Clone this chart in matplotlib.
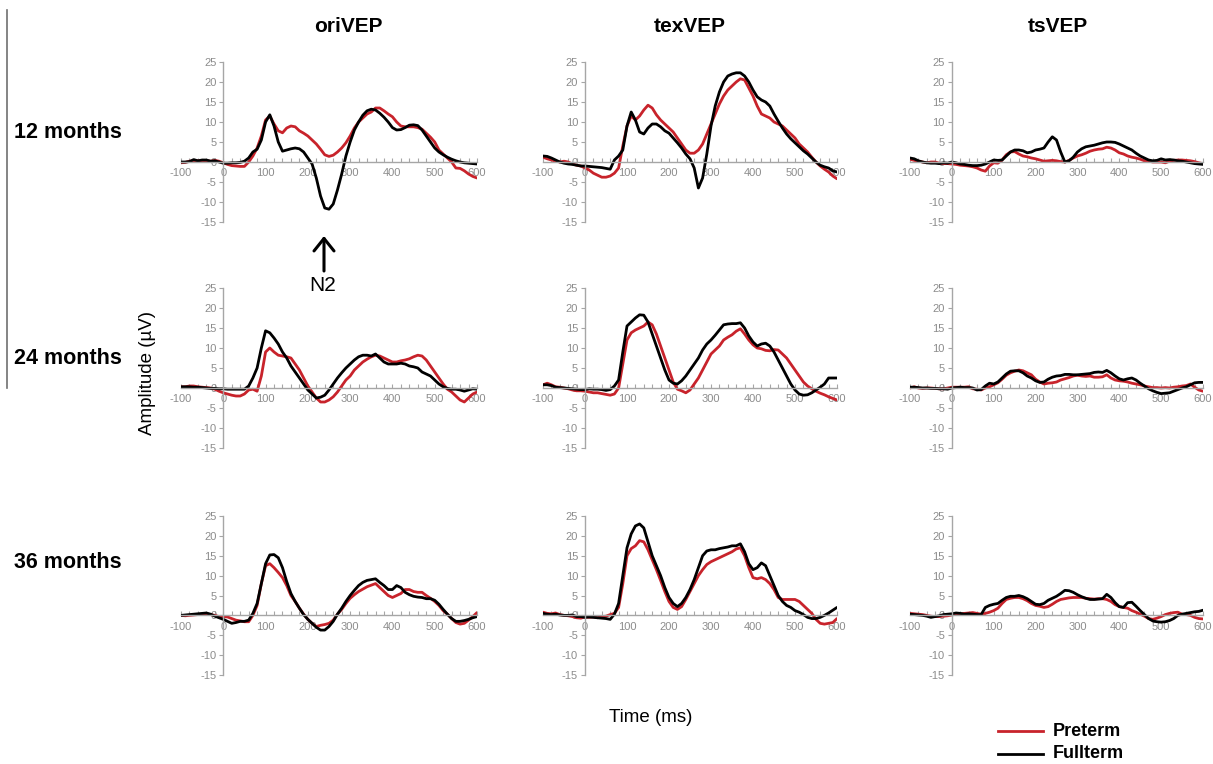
import matplotlib as mpl
import matplotlib.pyplot as plt
import numpy as np

plt.rc('font', family=['Liberation Sans', 'DejaVu Sans'])
plt.rc('axes', unicode_minus=False)

# sample times (ms), one value every 10 ms
TIME_MS = list(range(-100, 610, 10))

# --- oriVEP ---
ORI_12_PRE = [-0.2, -0.1, 0.2, 0.3, 0.3, 0.2, 0.3, 0.2, 0.4, 0.2, -0.2, -0.6, -0.9, -1.0, -1.1, -1.1, 0.0, 1.5,
              3.5, 6.5, 10.5, 11.5, 9.5, 7.8, 7.3, 8.5, 9.0, 8.8, 7.8, 7.2, 6.5, 5.5, 4.5, 3.2, 1.8, 1.4, 1.7, 2.5,
              3.5, 4.8, 6.5, 8.5, 10.0, 11.0, 12.0, 12.5, 13.5, 13.5, 12.8, 12.0, 11.3, 10.0, 9.0, 8.8, 8.8, 8.8,
              8.6, 8.2, 7.2, 6.2, 5.0, 3.0, 2.0, 1.0, 0.0, -1.5, -1.6, -2.2, -3.0, -3.6, -4.0]
ORI_12_FULL = [0.0, 0.0, 0.1, 0.6, 0.3, 0.5, 0.5, 0.2, 0.3, 0.0, -0.3, -0.3, -0.2, -0.2, -0.1, 0.2, 1.0, 2.5,
               3.2, 5.5, 10.0, 11.8, 9.0, 5.0, 2.7, 3.0, 3.3, 3.5, 3.3, 2.5, 1.0, -0.5, -4.0, -8.5, -11.5, -11.8,
               -10.5, -7.0, -3.0, 1.5, 5.0, 8.0, 10.0, 11.7, 12.8, 13.2, 13.0, 12.2, 11.2, 10.0, 8.6, 8.0, 8.1,
               8.6, 9.2, 9.3, 9.1, 8.0, 6.5, 5.0, 3.5, 2.5, 1.8, 1.2, 0.7, 0.3, 0.0, -0.2, -0.3, -0.4, -0.5]
ORI_24_PRE = [0.3, 0.3, 0.5, 0.5, 0.3, 0.2, 0.1, 0.0, -0.3, -0.8, -1.2, -1.5, -1.8, -2.0, -2.0, -1.5, -0.5, -0.3,
              -0.8, 3.0, 9.0, 10.0, 9.0, 8.2, 8.0, 7.8, 7.5, 6.0, 4.5, 2.5, 0.5, -1.0, -2.5, -3.5, -3.5, -3.0,
              -2.2, -1.0, 0.5, 2.0, 3.0, 4.5, 5.5, 6.5, 7.2, 7.8, 8.2, 8.0, 7.5, 7.0, 6.5, 6.5, 6.8, 7.0, 7.3,
              7.8, 8.2, 8.0, 7.0, 5.5, 4.0, 2.5, 1.0, -0.3, -1.0, -2.0, -3.0, -3.5, -2.5, -1.5, -1.0]
ORI_24_FULL = [0.3, 0.3, 0.3, 0.2, 0.2, 0.1, 0.0, -0.1, -0.1, -0.2, -0.2, -0.3, -0.3, -0.3, -0.3, -0.3, 0.5,
               2.5, 5.0, 10.0, 14.3, 13.8, 12.5, 11.0, 9.0, 7.5, 5.5, 4.0, 2.5, 1.0, -0.5, -1.5, -2.5, -2.3, -1.8,
               -0.5, 1.0, 2.5, 3.8, 5.0, 6.0, 7.0, 7.8, 8.2, 8.2, 8.0, 8.5, 7.5, 6.5, 6.0, 6.0, 6.0, 6.2, 6.0,
               5.5, 5.3, 5.0, 4.0, 3.5, 3.0, 2.0, 1.0, 0.3, -0.1, -0.3, -0.3, -0.5, -0.8, -0.5, -0.2, -0.3]
ORI_36_PRE = [0.0, -0.1, 0.0, 0.1, 0.2, 0.3, 0.4, 0.2, 0.0, -0.3, -0.3, -0.4, -0.8, -1.2, -1.4, -1.6, -1.6, 0.0,
              2.5, 8.0, 12.5, 13.0, 12.0, 10.8, 9.5, 7.5, 5.0, 3.5, 1.8, 0.3, -1.0, -2.0, -2.8, -2.5, -2.3, -2.0,
              -1.2, 0.3, 1.5, 3.0, 4.3, 5.2, 6.0, 6.6, 7.2, 7.6, 8.0, 7.0, 6.0, 5.0, 4.5, 5.0, 5.5, 6.5, 6.5,
              6.0, 5.8, 5.8, 5.0, 4.3, 3.5, 2.5, 1.2, 0.3, -0.8, -1.8, -2.2, -2.0, -1.2, -0.3, 0.7]
ORI_36_FULL = [0.0, 0.1, 0.2, 0.3, 0.4, 0.5, 0.6, 0.3, -0.2, -0.6, -1.0, -1.5, -2.0, -1.8, -1.5, -1.5, -1.2, 0.5,
               3.0, 8.0, 13.0, 15.2, 15.3, 14.5, 12.0, 8.5, 5.5, 3.5, 1.8, 0.2, -1.0, -2.0, -3.0, -3.7, -3.7,
               -2.8, -1.5, 0.3, 1.8, 3.5, 5.0, 6.3, 7.5, 8.3, 8.8, 9.0, 9.2, 8.3, 7.5, 6.5, 6.5, 7.5, 7.0, 5.8,
               5.2, 4.8, 4.6, 4.5, 4.2, 4.2, 3.8, 2.8, 1.5, 0.3, -0.8, -1.5, -1.5, -1.3, -1.0, -0.6, -0.3]

# --- texVEP ---
TEX_12_PRE = [1.2, 0.8, 0.5, 0.2, 0.0, 0.2, 0.0, -0.5, -0.8, -1.0, -1.5, -2.0, -2.8, -3.3, -3.8, -3.8, -3.5,
              -2.8, -1.5, 4.0, 9.0, 11.5, 10.5, 11.5, 13.0, 14.2, 13.5, 11.8, 10.5, 9.5, 8.5, 7.5, 6.0, 4.5, 3.0,
              2.2, 2.2, 3.0, 4.5, 7.0, 9.5, 12.0, 14.5, 16.5, 18.0, 19.0, 20.0, 20.8, 20.5, 18.5, 16.5, 14.0,
              12.0, 11.5, 11.0, 10.0, 9.5, 9.0, 8.0, 7.0, 6.0, 4.5, 3.5, 2.5, 1.2, 0.0, -1.0, -1.8, -2.5, -3.5,
              -4.2]
TEX_12_FULL = [1.5, 1.4, 1.0, 0.5, 0.0, -0.3, -0.5, -0.6, -0.8, -1.0, -1.0, -1.1, -1.2, -1.3, -1.4, -1.6, -1.8,
               0.5, 1.5, 3.0, 9.0, 12.5, 10.5, 7.5, 7.0, 8.5, 9.5, 9.5, 8.8, 7.8, 7.2, 6.0, 4.8, 3.5, 2.0, 0.8,
               -1.5, -6.5, -4.0, 2.0, 9.0, 14.0, 17.5, 20.0, 21.5, 22.0, 22.3, 22.3, 21.5, 20.0, 18.0, 16.3, 15.5,
               15.0, 14.0, 12.0, 10.2, 8.5, 7.0, 5.8, 4.8, 3.8, 2.8, 2.0, 1.0, 0.0, -0.8, -1.2, -1.5, -2.2, -2.5]
TEX_24_PRE = [0.8, 1.2, 0.8, 0.3, 0.2, 0.0, -0.2, -0.5, -0.7, -0.7, -0.8, -1.0, -1.2, -1.2, -1.4, -1.6, -1.8,
              -1.5, 0.0, 6.0, 12.0, 13.8, 14.5, 15.0, 15.5, 16.5, 15.8, 13.5, 10.5, 7.5, 4.5, 1.5, -0.3, -0.7,
              -1.2, -0.5, 1.0, 2.5, 4.5, 6.5, 8.5, 9.5, 10.5, 12.0, 12.7, 13.3, 14.2, 14.8, 13.5, 12.0, 10.8,
              10.0, 9.8, 9.4, 9.3, 9.6, 9.5, 8.5, 7.5, 6.0, 4.5, 3.0, 1.5, 0.5, -0.2, -0.8, -1.3, -1.7, -2.2,
              -2.6, -3.0]
TEX_24_FULL = [0.8, 0.8, 0.6, 0.2, 0.1, 0.0, -0.1, -0.2, -0.3, -0.4, -0.4, -0.2, -0.3, -0.3, -0.4, -0.6, -0.4,
               0.5, 2.0, 9.0, 15.5, 16.5, 17.5, 18.3, 18.2, 16.5, 13.5, 10.5, 7.5, 4.5, 2.0, 1.2, 1.0, 1.8, 3.0,
               4.5, 6.0, 7.5, 9.5, 11.0, 12.0, 13.2, 14.5, 15.8, 16.0, 16.1, 16.1, 16.3, 15.0, 13.0, 11.5, 10.5,
               11.0, 11.2, 10.5, 9.0, 7.0, 5.0, 3.0, 1.0, -0.5, -1.5, -1.8, -1.7, -1.2, -0.5, 0.2, 1.0, 2.5, 2.5,
               2.5]
TEX_36_PRE = [0.8, 0.5, 0.4, 0.6, 0.2, 0.0, -0.1, -0.3, -0.6, -0.7, -0.4, -0.5, -0.4, -0.6, -0.3, -0.2, 0.2, 0.5,
              2.0, 8.0, 15.0, 16.8, 17.5, 18.8, 18.5, 16.5, 14.0, 11.5, 8.8, 6.0, 3.5, 2.0, 1.5, 2.2, 4.0, 6.0,
              8.0, 10.0, 11.5, 12.8, 13.5, 14.0, 14.5, 15.0, 15.5, 16.0, 16.7, 17.0, 15.0, 12.0, 9.5, 9.2, 9.5,
              9.0, 8.0, 6.5, 4.5, 4.0, 4.0, 4.0, 4.0, 3.5, 2.5, 1.5, 0.5, -1.0, -2.0, -2.2, -2.0, -1.8, -0.8]
TEX_36_FULL = [0.5, 0.3, 0.2, 0.3, 0.1, 0.0, 0.0, 0.1, -0.3, -0.3, -0.5, -0.4, -0.5, -0.6, -0.7, -0.8, -1.0, 0.3,
               3.0, 10.0, 17.0, 20.5, 22.5, 23.0, 22.0, 18.5, 15.0, 12.5, 10.0, 7.0, 4.5, 3.0, 2.2, 3.0, 4.5, 6.5,
               9.0, 12.0, 15.0, 16.2, 16.5, 16.5, 16.8, 17.0, 17.2, 17.5, 17.5, 18.0, 16.0, 13.0, 11.5, 12.0,
               13.2, 12.5, 10.0, 7.5, 5.0, 3.5, 2.5, 2.0, 1.2, 0.8, 0.2, -0.5, -0.8, -0.8, -0.5, 0.0, 0.6, 1.3,
               2.0]

# --- tsVEP ---
TS_12_PRE = [0.7, 0.4, 0.2, 0.0, -0.2, 0.0, 0.0, -0.3, -0.4, -0.4, -0.5, -0.6, -0.8, -0.9, -1.0, -1.2, -1.5, -2.0,
             -2.3, -1.0, -0.2, -0.3, 0.5, 1.8, 2.5, 2.6, 2.0, 1.5, 1.3, 1.0, 0.8, 0.5, 0.2, 0.3, 0.4, 0.3, 0.1,
             0.0, 0.4, 1.0, 1.5, 1.8, 2.2, 2.7, 3.0, 3.2, 3.3, 3.7, 3.5, 3.0, 2.3, 2.0, 1.5, 1.2, 1.0, 0.7, 0.3,
             0.2, 0.0, 0.0, 0.0, -0.2, 0.2, 0.4, 0.5, 0.5, 0.4, 0.3, 0.1, -0.2, -0.4]
TS_12_FULL = [1.0, 0.8, 0.3, 0.0, -0.2, -0.3, -0.3, -0.4, -0.2, -0.3, 0.0, -0.2, -0.5, -0.6, -0.8, -0.9, -0.9,
              -0.8, -0.5, 0.0, 0.5, 0.4, 0.5, 1.5, 2.5, 3.0, 3.0, 2.8, 2.3, 2.5, 3.0, 3.2, 3.5, 5.0, 6.3, 5.5, 2.5,
              0.0, 0.3, 1.2, 2.5, 3.3, 3.8, 4.0, 4.2, 4.5, 4.8, 5.0, 5.0, 4.9, 4.5, 4.0, 3.5, 3.0, 2.2, 1.5, 1.0,
              0.5, 0.3, 0.4, 0.8, 0.5, 0.6, 0.5, 0.3, 0.2, 0.0, -0.2, -0.4, -0.5, -0.6]
TS_24_PRE = [0.0, 0.3, 0.0, -0.1, 0.0, 0.0, -0.1, -0.2, -0.2, 0.0, 0.2, 0.2, 0.2, 0.2, 0.3, -0.2, -0.3, -0.5, 0.0,
             0.3, 0.8, 1.3, 2.2, 3.2, 3.8, 4.2, 4.5, 4.3, 3.8, 3.3, 2.2, 1.5, 1.0, 1.2, 1.3, 1.5, 2.0, 2.3, 2.6,
             3.0, 3.2, 3.0, 2.9, 3.0, 2.7, 2.7, 2.8, 3.3, 2.5, 2.0, 1.8, 1.7, 1.5, 1.2, 1.0, 0.8, 0.5, 0.3, 0.1,
             0.1, 0.0, 0.1, 0.0, 0.2, 0.3, 0.5, 0.6, 1.0, 0.2, -0.5, -0.8]
TS_24_FULL = [0.2, 0.2, 0.1, 0.0, 0.0, -0.1, -0.1, -0.2, -0.2, -0.3, 0.0, 0.1, 0.2, 0.1, 0.1, 0.0, -0.5, -0.4,
              0.5, 1.2, 1.0, 1.5, 2.5, 3.5, 4.2, 4.3, 4.3, 3.8, 3.0, 2.5, 1.8, 1.4, 1.5, 2.2, 2.7, 3.0, 3.1, 3.4,
              3.4, 3.3, 3.3, 3.4, 3.5, 3.6, 3.9, 4.0, 3.9, 4.4, 3.8, 3.0, 2.3, 2.0, 2.3, 2.5, 2.0, 1.2, 0.5, -0.2,
              -0.7, -1.1, -1.4, -1.3, -1.2, -0.8, -0.4, 0.0, 0.3, 0.8, 1.3, 1.4, 1.4]
TS_36_PRE = [0.5, 0.4, 0.3, 0.2, 0.0, -0.2, -0.3, -0.3, -0.2, -0.1, 0.1, 0.3, 0.4, 0.5, 0.6, 0.7, 0.5, 0.3, 0.5,
             0.8, 1.2, 1.8, 3.0, 4.0, 4.3, 4.5, 4.5, 4.2, 3.7, 3.0, 2.5, 2.3, 2.0, 2.2, 2.8, 3.5, 4.0, 4.2, 4.4,
             4.5, 4.5, 4.5, 4.3, 4.2, 4.1, 4.2, 4.2, 4.0, 3.5, 2.7, 2.2, 2.0, 1.8, 1.2, 0.8, 0.3, -0.2, -0.8,
             -1.0, -0.7, -0.3, 0.2, 0.5, 0.7, 0.8, 0.3, 0.2, 0.0, -0.5, -0.8, -0.9]
TS_36_FULL = [0.3, 0.2, 0.1, 0.0, -0.2, -0.5, -0.3, -0.1, 0.2, 0.3, 0.4, 0.6, 0.5, 0.3, 0.4, 0.3, 0.2, 0.2, 2.0,
              2.5, 2.8, 3.0, 3.8, 4.5, 4.8, 4.8, 5.0, 4.7, 4.2, 3.5, 2.8, 2.7, 3.0, 3.8, 4.3, 4.8, 5.5, 6.3, 6.2,
              5.8, 5.2, 4.7, 4.3, 4.0, 4.0, 4.1, 4.2, 5.3, 4.5, 3.2, 2.2, 2.0, 3.2, 3.3, 2.3, 1.2, 0.2, -0.8,
              -1.4, -1.6, -1.7, -1.6, -1.3, -0.8, 0.0, 0.3, 0.5, 0.7, 0.9, 1.0, 1.3]

CONDITIONS = ['oriVEP', 'texVEP', 'tsVEP']
AGES = ['12 months', '24 months', '36 months']
PRETERM = [[ORI_12_PRE, TEX_12_PRE, TS_12_PRE],
           [ORI_24_PRE, TEX_24_PRE, TS_24_PRE],
           [ORI_36_PRE, TEX_36_PRE, TS_36_PRE]]
FULLTERM = [[ORI_12_FULL, TEX_12_FULL, TS_12_FULL],
            [ORI_24_FULL, TEX_24_FULL, TS_24_FULL],
            [ORI_36_FULL, TEX_36_FULL, TS_36_FULL]]

RED = '#c8232b'
AXIS_GREY = '#a6a6a6'
TICK_GREY = '#8c8c8c'

W, H = 1213, 764
# panel boxes in pixels: left edge / width per column, top / bottom per row
COL_LEFT = [181, 543, 910]
COL_WIDTH = [296, 294, 293]
ROW_TOP = [62, 288, 516]
ROW_BOTTOM = [222, 448, 675]


def style_axis(ax):
    ax.set_xlim(-100, 600)
    ax.set_ylim(-15, 25)
    for s in ('top', 'right'):
        ax.spines[s].set_visible(False)
    ax.spines['left'].set_position(('data', 0))
    ax.spines['bottom'].set_position(('data', 0))
    for s in ('left', 'bottom'):
        ax.spines[s].set_color(AXIS_GREY)
        ax.spines[s].set_linewidth(1.0)
    ax.set_xticks(range(-100, 601, 100))
    ax.set_xticks(range(-100, 601, 20), minor=True)
    ax.set_yticks(range(-15, 26, 5))
    ax.tick_params(axis='x', which='both', direction='in', length=3, width=0.8,
                   color=AXIS_GREY, labelcolor=TICK_GREY, labelsize=8, pad=4.5)
    ax.tick_params(axis='y', direction='out', length=3, width=0.8,
                   color=AXIS_GREY, labelcolor=TICK_GREY, labelsize=8, pad=2)
    ax.patch.set_alpha(0)


fig = plt.figure(figsize=(W / 100, H / 100), dpi=100)

for r in range(3):
    for c in range(3):
        rect = [COL_LEFT[c] / W, 1 - ROW_BOTTOM[r] / H,
                COL_WIDTH[c] / W, (ROW_BOTTOM[r] - ROW_TOP[r]) / H]
        ax = fig.add_axes(rect)
        style_axis(ax)
        ax.plot(TIME_MS, PRETERM[r][c], color=RED, lw=2.0, solid_capstyle='round')
        ax.plot(TIME_MS, FULLTERM[r][c], color='black', lw=2.0, solid_capstyle='round')

# column titles
for x, name in zip([348, 690, 1058], CONDITIONS):
    fig.text(x / W, 1 - 27 / H, name, ha='center', va='center',
             fontsize=15, fontweight='bold')

# row labels
for y, age in zip([132, 358, 563], AGES):
    fig.text(14 / W, 1 - y / H, age, ha='left', va='center',
             fontsize=15.5, fontweight='bold')

# thin vertical rule on the far left
fig.add_artist(mpl.lines.Line2D([7 / W, 7 / W], [1 - 10 / H, 1 - 388 / H],
                                color='#707070', lw=1.2))

# N2 marker under the first panel
fig.text(323 / W, 1 - 285 / H, 'N2', ha='center', va='center', fontsize=15)
fig.add_artist(mpl.patches.FancyArrowPatch((324 / W, 1 - 271 / H), (324 / W, 1 - 236 / H),
                                           transform=fig.transFigure,
                                           arrowstyle='->,head_length=0.5,head_width=0.4',
                                           mutation_scale=18, shrinkA=0, shrinkB=0,
                                           color='black', lw=2.2))

fig.text(148 / W, 1 - 373 / H, 'Amplitude (µV)', rotation=90,
         ha='center', va='center', fontsize=13.5)
fig.text(651 / W, 1 - 718 / H, 'Time (ms)', ha='center', va='center', fontsize=13.5)

# legend at lower right
for y, lbl, col in [(731, 'Preterm', RED), (754, 'Fullterm', 'black')]:
    fig.add_artist(mpl.lines.Line2D([998 / W, 1043 / W], [1 - y / H, 1 - y / H], color=col, lw=2))
    fig.text(1053 / W, 1 - y / H, lbl, ha='left', va='center', fontsize=13, fontweight='bold')

fig.savefig('out.png', dpi=100)
